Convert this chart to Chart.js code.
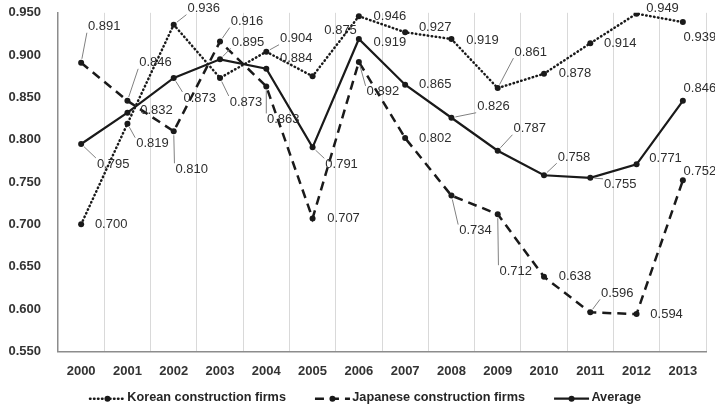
<!DOCTYPE html>
<html>
<head>
<meta charset="utf-8">
<script src="https://cdn.jsdelivr.net/npm/chart.js@4.4.1/dist/chart.umd.min.js"></script>
<style>
  html, body { margin: 0; padding: 0; background: #fff; }
  #wrap { width: 715px; height: 414px; }
</style>
</head>
<body>
<div id="wrap"><canvas id="chart"></canvas></div>
<script>
// ── data ─────────────────────────────────────
const years = ['2000', '2001', '2002', '2003', '2004', '2005', '2006',
               '2007', '2008', '2009', '2010', '2011', '2012', '2013'];
const korean   = [0.700, 0.819, 0.936, 0.873, 0.904, 0.875, 0.946, 0.927, 0.919, 0.861, 0.878, 0.914, 0.949, 0.939];
const japanese = [0.891, 0.846, 0.810, 0.916, 0.863, 0.707, 0.892, 0.802, 0.734, 0.712, 0.638, 0.596, 0.594, 0.752];
const average  = [0.795, 0.832, 0.873, 0.895, 0.884, 0.791, 0.919, 0.865, 0.826, 0.787, 0.758, 0.755, 0.771, 0.846];
const yMin = 0.55, yMax = 0.95, yStep = 0.05;

// label placement: [dx, dy, leader line?] relative to the point
const korLabelPos = [[30,0],[25,20,1],[30,-16,1],[26,24,1],[30,-13,1],[28,-46],[31,0],
                     [30,-5],[31,1],[33,-36,1],[31,0],[30,0],[26,-5],[17,15]];
const jpnLabelPos = [[23,-36,1],[28,-38,1],[18,38,1],[27,-20,1],[17,33,1],[31,0],[24,30,1],
                     [30,0],[24,35,1],[18,57,1],[31,0],[27,-19,1],[30,0],[17,-9]];
const avgLabelPos = [[32,20,1],[29,-2],[26,20,1],[28,-17,1],[30,-10],[29,17,1],[31,3],
                     [30,0],[42,-11,1],[32,-22,1],[30,-18,1],[30,7,1],[29,-6],[17,-12]];

const INK = '#1a1a1a';
const FONT = '"Liberation Sans", Arial, sans-serif';

// values next to the points, with thin leader lines where they sit apart
const pointLabels = {
  id: 'pointLabels',
  afterDatasetsDraw(chart) {
    const ctx = chart.ctx;
    const placements = [korLabelPos, jpnLabelPos, avgLabelPos];
    ctx.save();
    ctx.font = '13px ' + FONT;
    ctx.textAlign = 'center';
    ctx.textBaseline = 'middle';
    chart.data.datasets.forEach((ds, di) => {
      const meta = chart.getDatasetMeta(di);
      meta.data.forEach((pt, i) => {
        const [dx, dy, leader] = placements[di][i];
        const text = ds.data[i].toFixed(3);
        const w = ctx.measureText(text).width + 2;
        const h = 12;
        const cx = pt.x + dx, cy = pt.y + dy;
        if (leader) {
          const tx = Math.max(cx - w / 2, Math.min(pt.x, cx + w / 2));
          const ty = Math.max(cy - h / 2, Math.min(pt.y, cy + h / 2));
          const len = Math.hypot(tx - pt.x, ty - pt.y) || 1;
          ctx.beginPath();
          ctx.strokeStyle = '#808080';
          ctx.lineWidth = 1;
          ctx.moveTo(pt.x + (tx - pt.x) / len * 4, pt.y + (ty - pt.y) / len * 4);
          ctx.lineTo(tx, ty);
          ctx.stroke();
        }
        ctx.fillStyle = '#2e2e2e';
        ctx.fillText(text, cx, cy);
      });
    });
    ctx.restore();
  }
};

// legend sample lines (dataset dash + marker), drawn in the legend box space
const LEG_LEAD = 19, LEG_LINE = 35;
const legendLines = {
  id: 'legendLines',
  afterDraw(chart) {
    const lg = chart.legend;
    if (!lg || !lg.legendHitBoxes) return;
    const size = lg.options.labels.font.size;
    const ctx = chart.ctx;
    ctx.save();
    lg.legendHitBoxes.forEach((box, i) => {
      const ds = chart.data.datasets[i];
      const y = box.top + size / 2 + 1;
      const x0 = box.left + LEG_LEAD, x1 = x0 + LEG_LINE;
      ctx.strokeStyle = INK;
      ctx.lineWidth = ds.borderWidth;
      ctx.lineCap = ds.borderCapStyle || 'butt';
      ctx.setLineDash(ds.borderDash || []);
      ctx.beginPath();
      ctx.moveTo(x0, y);
      ctx.lineTo(x1, y);
      ctx.stroke();
      ctx.setLineDash([]);
      ctx.fillStyle = INK;
      ctx.beginPath();
      ctx.arc((x0 + x1) / 2, y, 3, 0, Math.PI * 2);
      ctx.fill();
    });
    ctx.restore();
  }
};

const common = {
  borderColor: INK,
  pointBackgroundColor: INK,
  pointBorderColor: INK,
  pointRadius: 3,
  pointBorderWidth: 0,
  fill: false,
  tension: 0,
};

new Chart(document.getElementById('chart'), {
  type: 'line',
  data: {
    labels: years,
    datasets: [
      { ...common, label: 'Korean construction firms', data: korean,
        borderWidth: 2.5, borderDash: [0.5, 3.5], borderCapStyle: 'round' },
      { ...common, label: 'Japanese construction firms', data: japanese,
        borderWidth: 2.5, borderDash: [9, 6], borderCapStyle: 'butt' },
      { ...common, label: 'Average', data: average, borderWidth: 2.2 },
    ],
  },
  options: {
    responsive: true,
    maintainAspectRatio: false,
    animation: false,
    layout: { padding: { left: 6, right: 9, top: 0, bottom: 0 } },
    plugins: {
      legend: {
        position: 'bottom',
        labels: {
          usePointStyle: true,
          pointStyle: 'line',
          pointStyleWidth: LEG_LEAD + LEG_LINE - 4,
          color: '#262626',
          padding: 10,
          font: { family: FONT, size: 12.7, weight: 'bold' },
        },
      },
      tooltip: { enabled: false },
    },
    scales: {
      x: {
        offset: true,
        grid: { offset: true, color: '#d9d9d9', drawTicks: false },
        border: { color: '#8c8c8c', width: 1.5 },
        ticks: { color: '#333', padding: 12,
                 font: { family: FONT, size: 13, weight: 'bold' } },
        afterFit: s => { s.height = 30; },
      },
      y: {
        min: yMin,
        max: yMax,
        // invisible grid, only used for its tick length (label gap)
        grid: { color: 'rgba(0,0,0,0)', drawTicks: true, tickLength: 12, tickColor: 'rgba(0,0,0,0)' },
        border: { display: true, color: '#8c8c8c', width: 1.5 },
        ticks: { stepSize: yStep, color: '#333', padding: 5,
                 callback: v => v.toFixed(3),
                 font: { family: FONT, size: 13, weight: 'bold' } },
        afterFit: s => { s.width = 52; },
      },
    },
  },
  plugins: [pointLabels, legendLines],
});
</script>
</body>
</html>
